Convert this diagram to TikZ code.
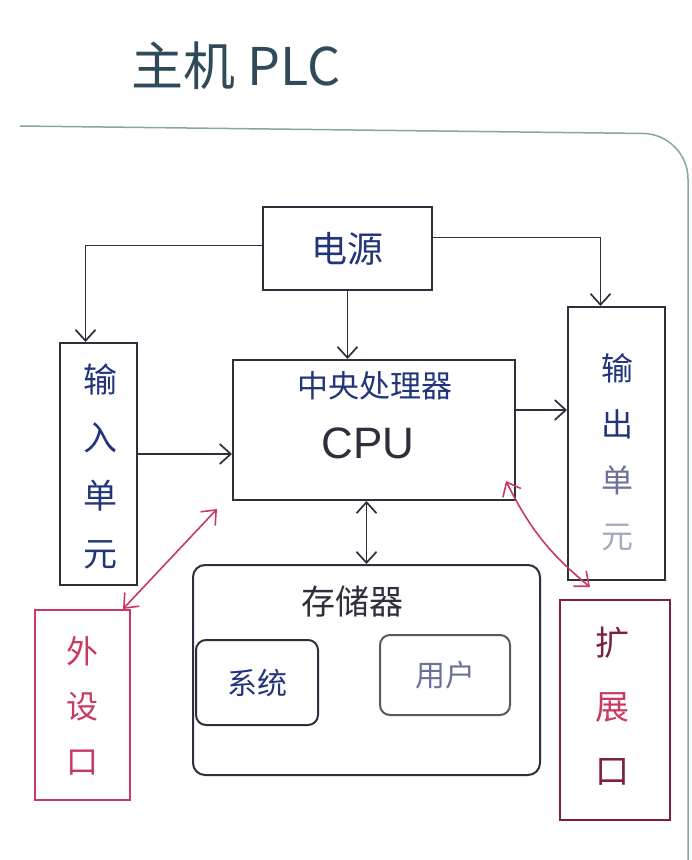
\documentclass[tikz,border=0pt]{standalone}
\usepackage{fontspec}
\setmainfont{Liberation Sans}
\newfontfamily\cjk{Noto Sans CJK SC}
\usetikzlibrary{arrows.meta}
\definecolor{ink}{HTML}{2E2F3C}
\definecolor{blueink}{HTML}{22357A}
\definecolor{paleink}{HTML}{6A7396}
\definecolor{redink}{HTML}{C83A62}
\definecolor{darkred}{HTML}{7E1F3C}
\definecolor{frameink}{HTML}{86A6A4}
\definecolor{titleink}{HTML}{2F4A58}
\begin{document}
\begin{tikzpicture}[x=1pt,y=-1pt,
  box/.style={draw=ink, line width=2pt, inner sep=0pt},
  lbl/.style={font=\cjk, text=blueink, align=center, inner sep=0pt},
  conn/.style={draw=ink, line width=1.7pt, -{Straight Barb[length=11pt,width=20pt]}},
  dconn/.style={draw=ink, line width=1.7pt, {Straight Barb[length=11pt,width=20pt]}-{Straight Barb[length=11pt,width=20pt]}},
  rconn/.style={draw=redink, line width=1.6pt, {Straight Barb[length=12pt,width=20pt]}-{Straight Barb[length=12pt,width=20pt]}}]
\useasboundingbox (0,0) rectangle (692,860);
\fill[white] (0,0) rectangle (692,860);

% outer frame
\draw[frameink, line width=1.5pt, rounded corners=45] (20,126) -- (688,134) -- (688,860);

% title
\node[font=\cjk\fontsize{52}{56}\selectfont, text=titleink, inner sep=0pt] (title) at (236,66) {主机 PLC};

% boxes
\node[box, minimum width=169, minimum height=83] (power) at (347.5,248.5) {};
\node[lbl, font=\cjk\fontsize{36}{40}\selectfont] (powerlbl) at (power.center) {电源};

\node[box, minimum width=77, minimum height=242] (inunit) at (98.5,464) {};
\node[lbl, font=\cjk\fontsize{34}{58}\selectfont] (inlbl) at (100,466) {输\\入\\单\\元};

\node[box, minimum width=282, minimum height=140] (cpu) at (374,430) {};
\node[lbl, font=\cjk\fontsize{31}{36}\selectfont] (cputitle) at (375,386) {中央处理器};
\node[font=\fontsize{44}{50}\selectfont, text=ink, inner sep=0pt] (cpulbl) at (368,443) {CPU};

\node[box, minimum width=97, minimum height=273] (outunit) at (616.5,443.5) {};
\node[lbl, font=\cjk\fontsize{32}{56}\selectfont] (outlbl) at (617,452) {输\\出\\{\color{paleink}单}\\{\color{paleink!60}元}};

\node[box, rounded corners=12, minimum width=347, minimum height=210] (mem) at (366.5,670) {};
\node[lbl, font=\cjk\fontsize{34}{40}\selectfont, text=ink] (memlbl) at (352,602) {存储器};

\node[box, rounded corners=10, minimum width=122, minimum height=85] (sys) at (257,682.5) {};
\node[lbl, font=\cjk\fontsize{30}{34}\selectfont] (syslbl) at (sys.center) {系统};

\node[box, draw=ink!80, rounded corners=10, minimum width=130, minimum height=80] (user) at (445,675) {};
\node[lbl, font=\cjk\fontsize{30}{34}\selectfont, text=paleink] (userlbl) at (user.center) {用户};

\node[box, draw=redink, minimum width=95, minimum height=190] (periph) at (82.5,705) {};
\node[lbl, font=\cjk\fontsize{32}{55}\selectfont, text=redink] (periphlbl) at (82,706) {外\\设\\口};

\node[box, draw=darkred, minimum width=110, minimum height=220] (extport) at (615,710) {};
\node[lbl, font=\cjk\fontsize{34}{64}\selectfont, text=darkred] (extlbl) at (612,706) {扩\\{\color{redink}展}\\口};

% connectors
\draw[conn] ([yshift=3pt]power.west) -| ([xshift=-13pt]inunit.north);
\draw[conn] ([yshift=11pt]power.east) -| ([xshift=-16pt]outunit.north);
\draw[conn] (power.south) -- (power.south |- cpu.north);
\draw[conn] ([yshift=10pt]inunit.east) -- ([yshift=10pt]inunit.east -| cpu.west);
\draw[conn] ([yshift=20pt]cpu.east) -- ([yshift=20pt]cpu.east -| outunit.west);
\draw[dconn] (cpu.south -| mem.north) -- (mem.north);
\draw[rconn] ([xshift=-15pt,yshift=-8pt]cpu.south west) -- ([xshift=-8pt]periph.north east);
\draw[rconn] ([xshift=-10pt,yshift=20pt]cpu.south east) to[bend right=12] ([xshift=-25pt,yshift=12pt]extport.north);
\end{tikzpicture}
\end{document}
